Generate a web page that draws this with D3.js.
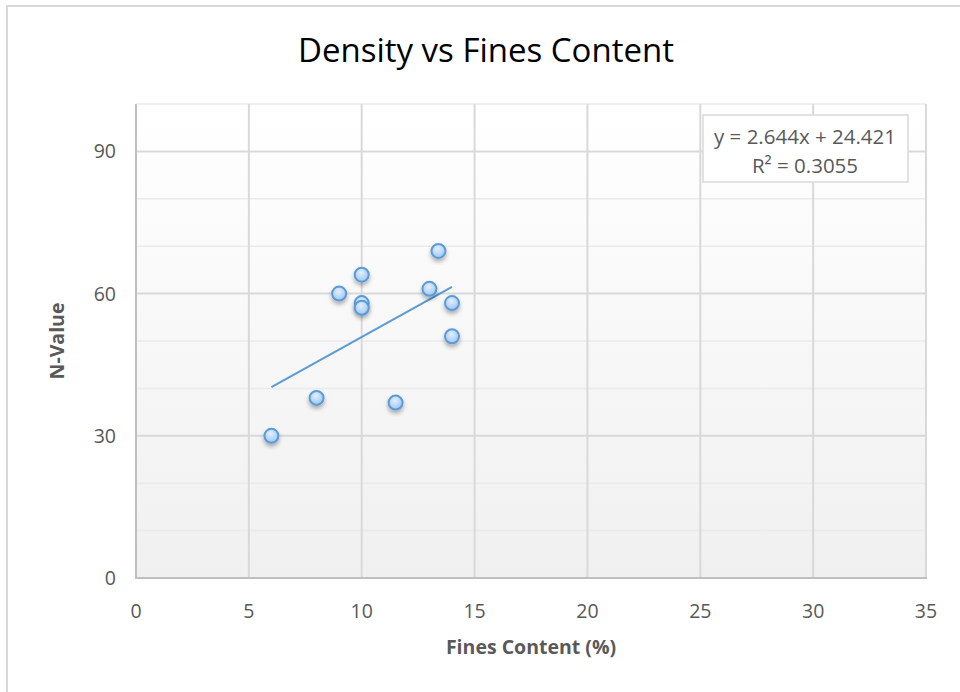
<!DOCTYPE html>
<html>
<head>
<meta charset="utf-8">
<script src="https://cdn.jsdelivr.net/npm/d3@7"></script>
<style>
  body { margin: 0; background: #fff; }
  svg { display: block; }
  text { font-family: "Open Sans", sans-serif; }
</style>
</head>
<body>
<div id="chart"></div>
<script>
// values
const fines = [6, 8, 9, 10, 10, 10, 11.5, 13, 13.4, 14, 14];
const nValue = [30, 38, 60, 64, 58, 57, 37, 61, 69, 58, 51];
const xTicks = [0, 5, 10, 15, 20, 25, 30, 35];
const yTicks = [0, 30, 60, 90];
const yMinor = [10, 20, 40, 50, 70, 80, 100];
const equation = ["y = 2.644x + 24.421", "R² = 0.3055"];

const width = 960, height = 692;
const plot = {left: 136, right: 926, top: 104, bottom: 578};

let svg = d3.select("#chart").append("svg")
    .attr("width", width)
    .attr("height", height);

let defs = svg.append("defs");
let bg = defs.append("linearGradient")
    .attr("id", "bg")
    .attr("x1", 0).attr("y1", 0).attr("x2", 0).attr("y2", 1);
bg.append("stop").attr("offset", "0%").attr("stop-color", "#ffffff");
bg.append("stop").attr("offset", "100%").attr("stop-color", "#f0f0f0");

let dot = defs.append("radialGradient")
    .attr("id", "dot")
    .attr("cx", "45%").attr("cy", "35%").attr("r", "65%");
dot.append("stop").attr("offset", "0%").attr("stop-color", "#e3efff");
dot.append("stop").attr("offset", "100%").attr("stop-color", "#9cc6f2");

let shadow = defs.append("filter")
    .attr("id", "shadow")
    .attr("x", "-50%").attr("y", "-50%").attr("width", "200%").attr("height", "200%");
shadow.append("feDropShadow")
    .attr("dx", 0).attr("dy", 3)
    .attr("stdDeviation", 2)
    .attr("flood-color", "#000")
    .attr("flood-opacity", 0.3);

// outer chart border (right / bottom edges fall outside the frame)
svg.append("rect")
    .attr("x", 7).attr("y", 6)
    .attr("width", 980).attr("height", 720)
    .attr("fill", "#fff")
    .attr("stroke", "#d9d9d9")
    .attr("stroke-width", 2);

let x = d3.scaleLinear().domain([0, 35]).range([plot.left, plot.right]);
let y = d3.scaleLinear().domain([0, 100]).range([plot.bottom, plot.top]);

// plot area
svg.append("rect")
    .attr("x", plot.left).attr("y", plot.top)
    .attr("width", plot.right - plot.left)
    .attr("height", plot.bottom - plot.top)
    .attr("fill", "url(#bg)");

// minor horizontal grid
svg.append("g")
    .selectAll("line")
    .data(yMinor)
    .join("line")
    .attr("x1", plot.left).attr("x2", plot.right)
    .attr("y1", d => y(d)).attr("y2", d => y(d))
    .attr("stroke", "#ebebeb")
    .attr("stroke-width", 1.5);

// major horizontal grid
svg.append("g")
    .selectAll("line")
    .data(yTicks.filter(d => d > 0))
    .join("line")
    .attr("x1", plot.left).attr("x2", plot.right)
    .attr("y1", d => y(d)).attr("y2", d => y(d))
    .attr("stroke", "#d9d9d9")
    .attr("stroke-width", 2);

// vertical grid
svg.append("g")
    .selectAll("line")
    .data(xTicks.filter(d => d > 0))
    .join("line")
    .attr("x1", d => x(d)).attr("x2", d => x(d))
    .attr("y1", plot.top).attr("y2", plot.bottom)
    .attr("stroke", "#d9d9d9")
    .attr("stroke-width", 2);

// axes lines
svg.append("line")
    .attr("x1", plot.left).attr("x2", plot.left)
    .attr("y1", plot.top).attr("y2", plot.bottom)
    .attr("stroke", "#bfbfbf").attr("stroke-width", 2);
svg.append("line")
    .attr("x1", plot.left - 1).attr("x2", plot.right + 1)
    .attr("y1", plot.bottom).attr("y2", plot.bottom)
    .attr("stroke", "#bfbfbf").attr("stroke-width", 2);

// tick labels
svg.append("g")
    .selectAll("text")
    .data(xTicks)
    .join("text")
    .attr("x", d => x(d))
    .attr("y", 618)
    .attr("text-anchor", "middle")
    .attr("fill", "#595959")
    .attr("font-size", 19.5)
    .text(d => d);

svg.append("g")
    .selectAll("text")
    .data(yTicks)
    .join("text")
    .attr("x", 116)
    .attr("y", d => y(d) + 7)
    .attr("text-anchor", "end")
    .attr("fill", "#595959")
    .attr("font-size", 19.5)
    .text(d => d);

// axis titles
svg.append("text")
    .attr("x", 531).attr("y", 654)
    .attr("text-anchor", "middle")
    .attr("fill", "#595959")
    .attr("font-size", 19.5)
    .attr("font-weight", "bold")
    .text("Fines Content (%)");

svg.append("text")
    .attr("transform", "translate(64,341) rotate(-90)")
    .attr("text-anchor", "middle")
    .attr("fill", "#595959")
    .attr("font-size", 19.5)
    .attr("font-weight", "bold")
    .text("N-Value");

// title
svg.append("text")
    .attr("x", 486).attr("y", 62)
    .attr("text-anchor", "middle")
    .attr("fill", "#000")
    .attr("font-size", 33)
    .text("Density vs Fines Content");

// linear trendline (least squares over the points)
let pts = fines.map((f, i) => [f, nValue[i]]);
let mx = d3.mean(fines), my = d3.mean(nValue);
let slope = d3.sum(pts, p => (p[0] - mx) * (p[1] - my)) / d3.sum(pts, p => (p[0] - mx) ** 2);
let icpt = my - slope * mx;
let ext = d3.extent(fines);
svg.append("path")
    .datum(ext.map(v => [v, slope * v + icpt]))
    .attr("d", d3.line().x(d => x(d[0])).y(d => y(d[1])))
    .attr("fill", "none")
    .attr("stroke", "#5b9bd5")
    .attr("stroke-width", 2);

// points
svg.append("g")
    .selectAll("circle")
    .data(pts)
    .join("circle")
    .attr("cx", d => x(d[0]))
    .attr("cy", d => y(d[1]))
    .attr("r", 7)
    .attr("fill", "url(#dot)")
    .attr("stroke", "#5b9bd5")
    .attr("stroke-width", 2)
    .attr("filter", "url(#shadow)");

// equation box
let box = svg.append("g");
box.append("rect")
    .attr("x", 703).attr("y", 115)
    .attr("width", 205).attr("height", 67)
    .attr("fill", "#fff")
    .attr("stroke", "#d9d9d9")
    .attr("stroke-width", 1.5);
box.selectAll("text")
    .data(equation)
    .join("text")
    .attr("x", 805)
    .attr("y", (d, i) => 144 + i * 29)
    .attr("text-anchor", "middle")
    .attr("fill", "#595959")
    .attr("font-size", 20.5)
    .text(d => d);
</script>
</body>
</html>
